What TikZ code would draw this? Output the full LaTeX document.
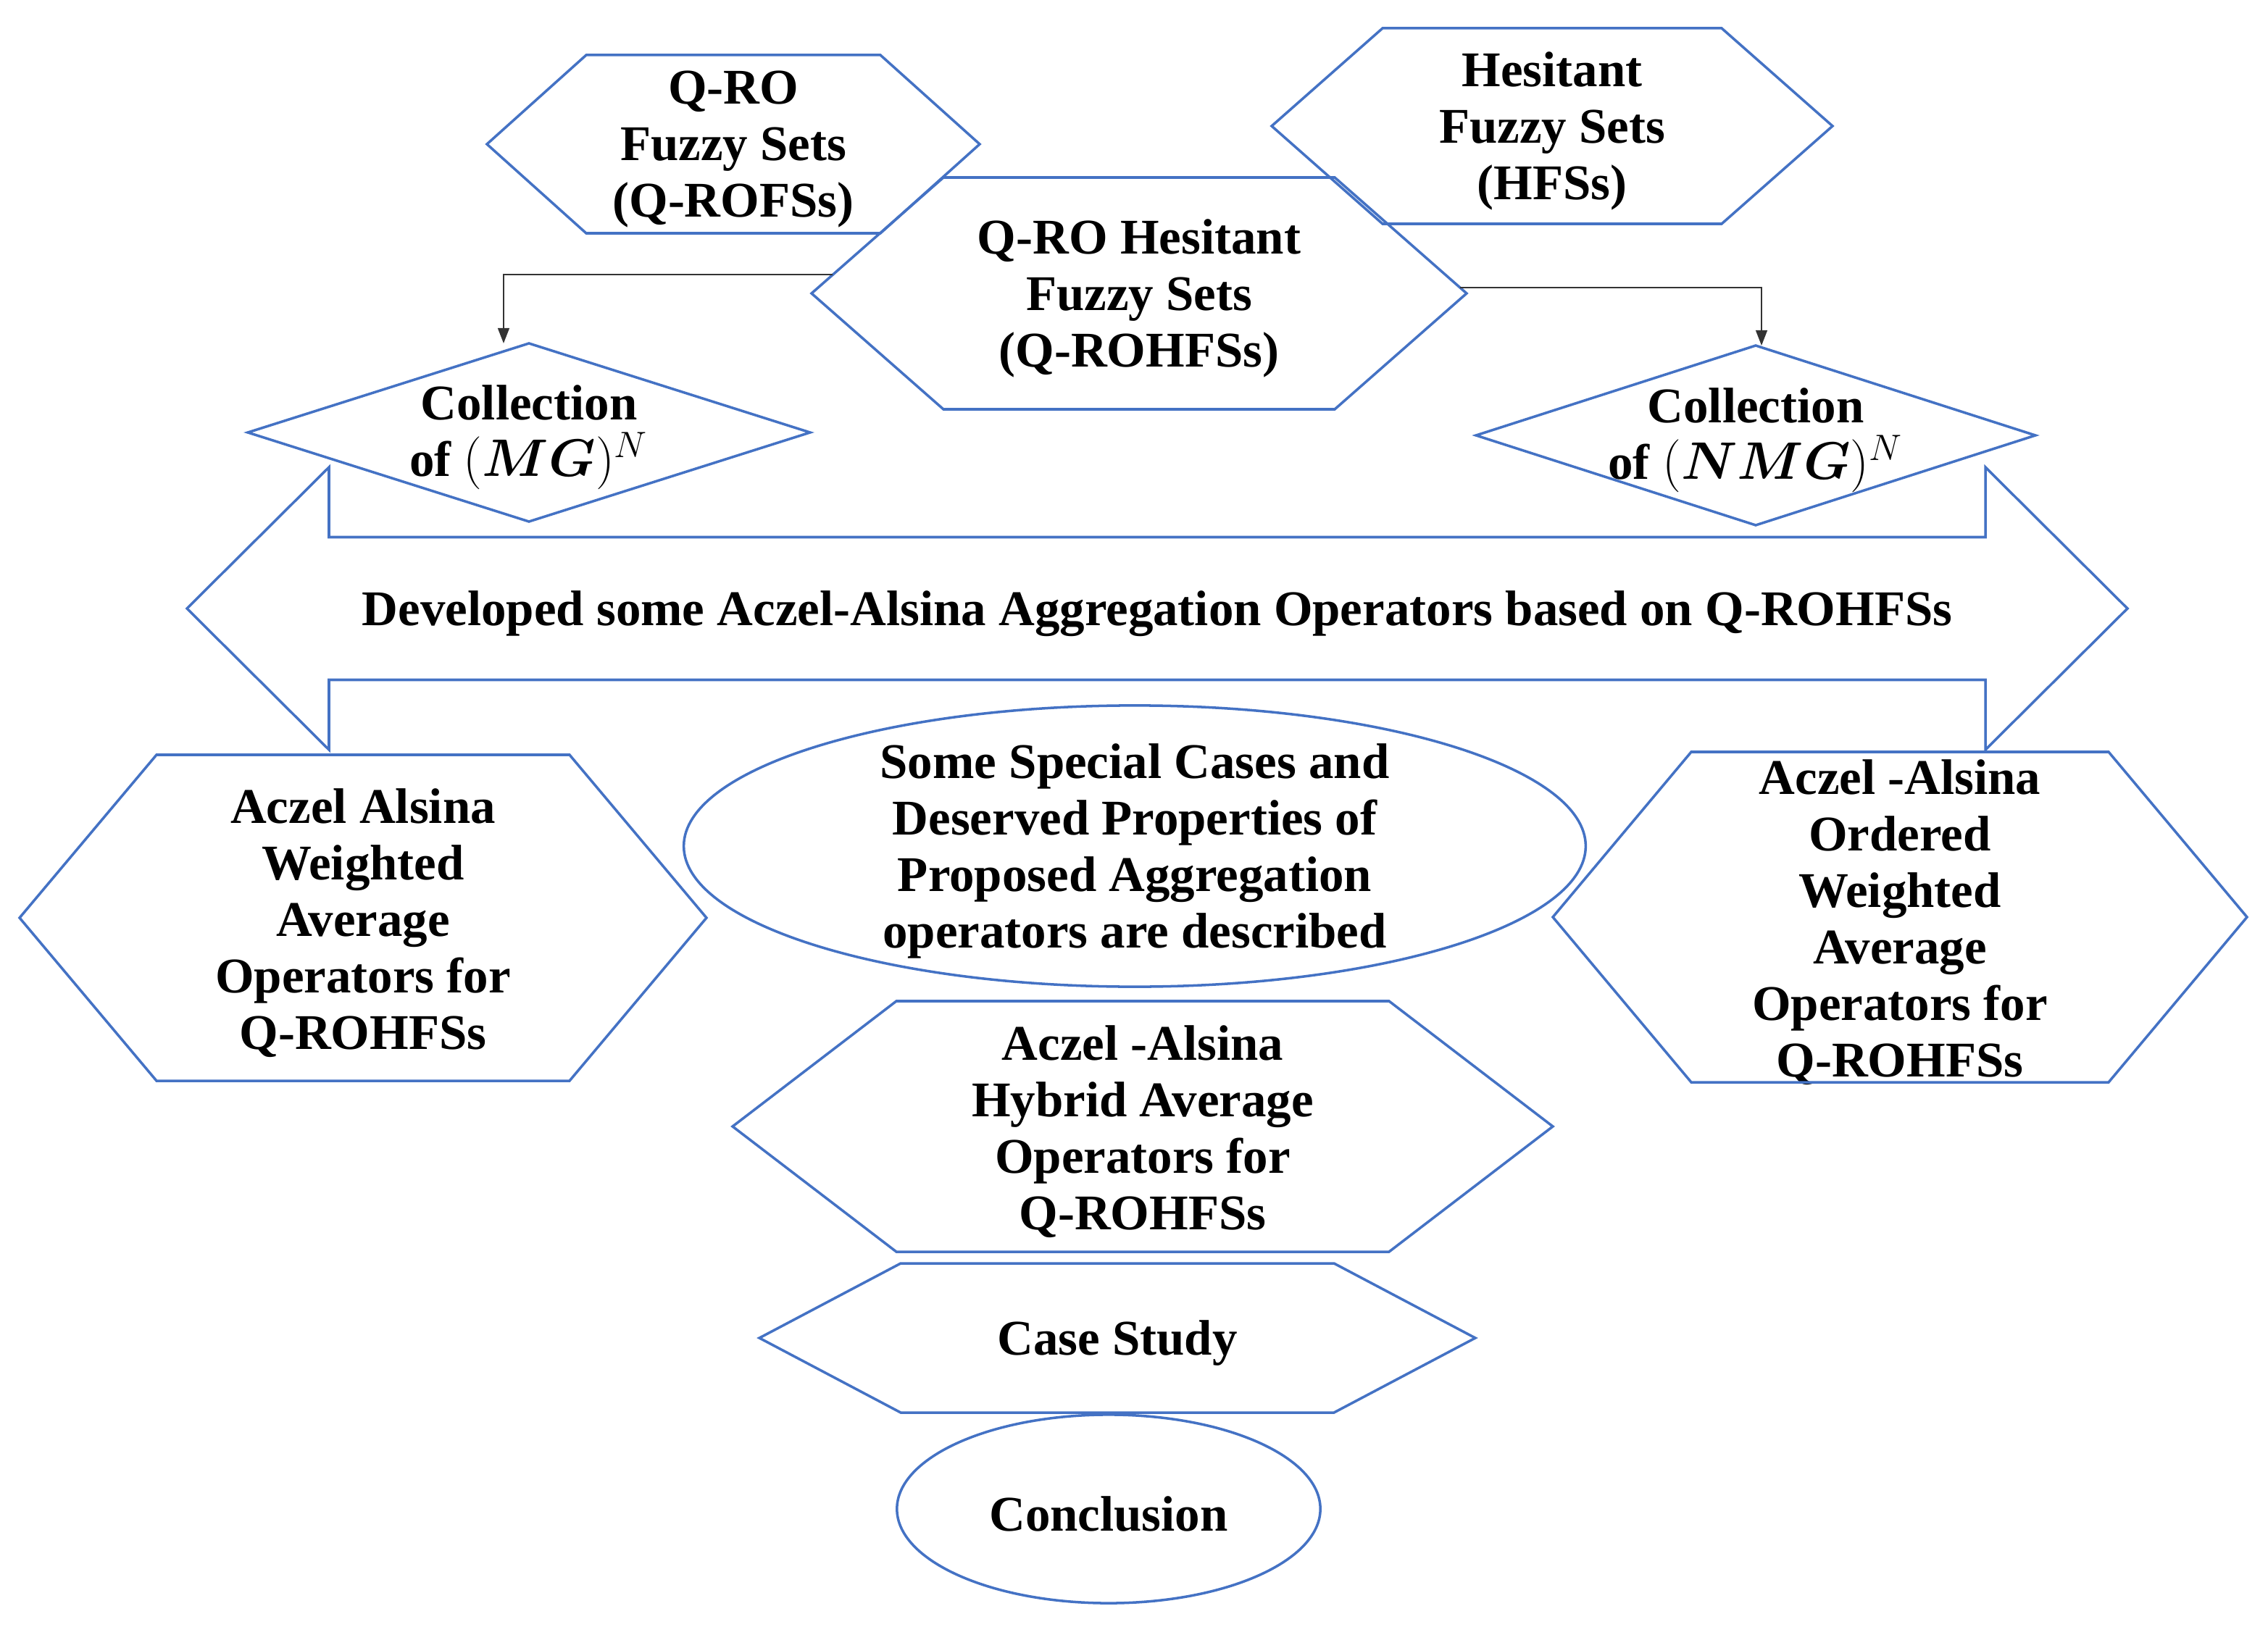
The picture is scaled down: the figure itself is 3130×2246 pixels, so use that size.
\documentclass[tikz,border=0pt]{standalone}
\usepackage{fontspec}
\setmainfont{Liberation Serif}
\usepackage{amsmath}
\usetikzlibrary{calc,arrows.meta}
\definecolor{ablue}{HTML}{4472C4}
\newcommand\bodyfont{\fontsize{19.6}{22.2}\selectfont\bfseries}
\newcommand\txtdrop{2pt}
% hexagon around node #1: half width #2, half height #3, inset of top edge #4
\newcommand\drawhex[4]{%
  \draw[shapeline,shift={(#1.center)},yshift=\txtdrop] (-#2,0) coordinate (#1-w)
    -- (-#2+#4,-#3) coordinate (#1-nw) -- (#2-#4,-#3) coordinate (#1-ne)
    -- (#2,0) coordinate (#1-e) -- (#2-#4,#3) coordinate (#1-se)
    -- (-#2+#4,#3) coordinate (#1-sw) -- cycle;}
% diamond around node #1: half width #2, half height #3
\newcommand\drawdiam[3]{%
  \draw[shapeline,shift={(#1.center)},yshift=\txtdrop] (-#2,0) coordinate (#1-w)
    -- (0,-#3) coordinate (#1-n) -- (#2,0) coordinate (#1-e)
    -- (0,#3) coordinate (#1-s) -- cycle;}
\begin{document}
\begin{tikzpicture}[x=0.01cm,y=-0.01cm,
  shapeline/.style={draw=ablue,line width=1pt},
  txt/.style={align=center,inner sep=0pt,font=\bodyfont,yshift=-\txtdrop},
  conn/.style={draw=black!80,line width=0.6pt,-{Triangle[length=6pt,width=4.5pt]}}]
\useasboundingbox (0,0) rectangle (3130,2246);

% text nodes (placed at the centres of their outlines)
\node[txt] (qrof) at (1012,199) {Q-RO\\Fuzzy Sets\\(Q-ROFSs)};
\node[txt] (hfs)  at (2142,174) {Hesitant\\Fuzzy Sets\\(HFSs)};
\node[txt] (qroh) at (1572,405) {Q-RO Hesitant\\Fuzzy Sets\\(Q-ROHFSs)};
\node[txt] (mg)   at (730,597)  {Collection\\of $(\boldsymbol{MG})^{N}$};
\node[txt] (nmg)  at (2423,601) {Collection\\of $(\boldsymbol{NMG})^{N}$};
\node[txt] (dev)  at (1597,840) {Developed some Aczel-Alsina Aggregation Operators based on Q-ROHFSs};
\node[txt] (awa)  at (501,1267) {Aczel Alsina\\Weighted\\Average\\Operators for\\Q-ROHFSs};
\node[txt] (spc)  at (1566,1168) {Some Special Cases and\\Deserved Properties of\\Proposed Aggregation\\operators are described};
\node[txt] (owa)  at (2622,1266) {Aczel -Alsina\\Ordered\\Weighted\\Average\\Operators for\\Q-ROHFSs};
\node[txt] (hyb)  at (1577,1555) {Aczel -Alsina\\Hybrid Average\\Operators for\\Q-ROHFSs};
\node[txt] (case) at (1542,1847) {Case Study};
\node[txt] (conc) at (1530,2083) {Conclusion};

% outlines
\drawhex{qrof}{340}{123}{137}
\drawhex{hfs}{387}{135}{153}
\drawhex{qroh}{452}{160}{182}
\drawdiam{mg}{388}{123}
\drawdiam{nmg}{386}{124}
\draw[shapeline,shift={(dev.center)},yshift=\txtdrop] (-1339,0) -- (-1143,-195) -- (-1143,-98.5)
  -- (1143,-98.5) -- (1143,-195) -- (1339,0) -- (1143,195) -- (1143,98.5)
  -- (-1143,98.5) -- (-1143,195) -- cycle;
\drawhex{awa}{474}{225}{189}
\draw[shapeline] ([yshift=\txtdrop]spc.center) ellipse [x radius=6.22cm, y radius=1.94cm];
\drawhex{owa}{479}{228}{191}
\drawhex{hyb}{566}{173}{226}
\drawhex{case}{494}{103}{195}
\draw[shapeline] ([yshift=\txtdrop]conc.center) ellipse [x radius=2.92cm, y radius=1.30cm];

% connectors
\coordinate (qroh-lc) at ($(qroh-w)!0.16!(qroh-nw)$);
\coordinate (qroh-rc) at ($(qroh-e)!0.05!(qroh-ne)$);
\draw[conn] (qroh-lc) -| ([xshift=-0.35cm]mg-n);
\draw[conn] (qroh-rc) -| ([xshift=0.08cm]nmg-n);
\end{tikzpicture}
\end{document}
